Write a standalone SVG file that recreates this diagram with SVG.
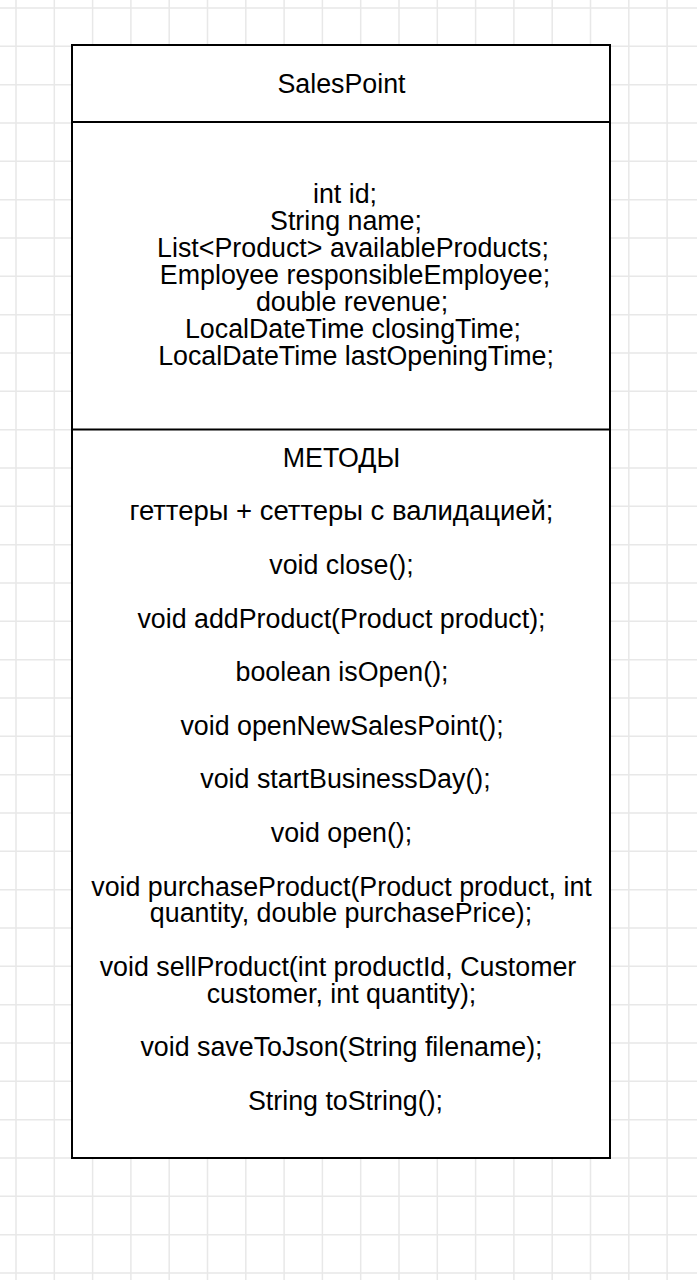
<svg xmlns="http://www.w3.org/2000/svg" width="697" height="1280" viewBox="0 0 697 1280">
<style>
.grid{stroke:#e8e8e8;stroke-width:1.5;fill:none}
.box{fill:#fff;stroke:#000;stroke-width:2}
.div{stroke:#000;stroke-width:2}
text{font-family:"Liberation Sans",Arial,Helvetica,sans-serif;font-size:26.8px;fill:#000;text-anchor:middle}
</style>
<rect x="0" y="0" width="697" height="1280" fill="#fff"/>
<path class="grid" d="M16 0V1280M54.3 0V1280M92.6 0V1280M130.9 0V1280M169.2 0V1280M207.5 0V1280M245.8 0V1280M284.1 0V1280M322.4 0V1280M360.7 0V1280M399 0V1280M437.3 0V1280M475.6 0V1280M513.9 0V1280M552.2 0V1280M590.5 0V1280M628.8 0V1280M667.1 0V1280
M0 8H697M0 46.3H697M0 84.7H697M0 123H697M0 161.3H697M0 199.7H697M0 238H697M0 276.3H697M0 314.7H697M0 353H697M0 391.3H697M0 429.7H697M0 468H697M0 506.3H697M0 544.7H697M0 583H697M0 621.3H697M0 659.7H697M0 698H697M0 736.3H697M0 774.7H697M0 813H697M0 851.3H697M0 889.7H697M0 928H697M0 966.3H697M0 1004.7H697M0 1043H697M0 1081.3H697M0 1119.7H697M0 1158H697M0 1196.3H697M0 1234.7H697M0 1273H697"/>
<g id="SalesPoint">
<rect class="box" x="72" y="45" width="538" height="1113"/>
<line class="div" x1="72" y1="122" x2="610" y2="122"/>
<line class="div" x1="72" y1="429.5" x2="610" y2="429.5"/>
<text x="341.5" y="93">SalesPoint</text>
<g id="fields">
<text x="345" y="203.3">int id;</text>
<text x="346" y="230.3">String name;</text>
<text x="353" y="257.3">List&lt;Product&gt; availableProducts;</text>
<text x="355" y="284.3">Employee responsibleEmployee;</text>
<text x="352" y="311.3">double revenue;</text>
<text x="353" y="338.3">LocalDateTime closingTime;</text>
<text x="356" y="365.3">LocalDateTime lastOpeningTime;</text>
</g>
<g id="methods">
<text x="341.5" y="466.7">МЕТОДЫ</text>
<text x="341.5" y="520.3" textLength="424" lengthAdjust="spacingAndGlyphs">геттеры + сеттеры с валидацией;</text>
<text x="341.5" y="573.9">void close();</text>
<text x="341.5" y="627.5">void addProduct(Product product);</text>
<text x="342" y="681.1">boolean isOpen();</text>
<text x="342" y="734.7">void openNewSalesPoint();</text>
<text x="345.5" y="788.3">void startBusinessDay();</text>
<text x="341.5" y="841.9">void open();</text>
<text x="341.5" y="895.5">void purchaseProduct(Product product, int</text>
<text x="341" y="922.3">quantity, double purchasePrice);</text>
<text x="338" y="975.9">void sellProduct(int productId, Customer</text>
<text x="341.5" y="1002.7">customer, int quantity);</text>
<text x="341.5" y="1056.3">void saveToJson(String filename);</text>
<text x="345.5" y="1109.9">String toString();</text>
</g>
</g>
<g id="connectors"/>
</svg>
